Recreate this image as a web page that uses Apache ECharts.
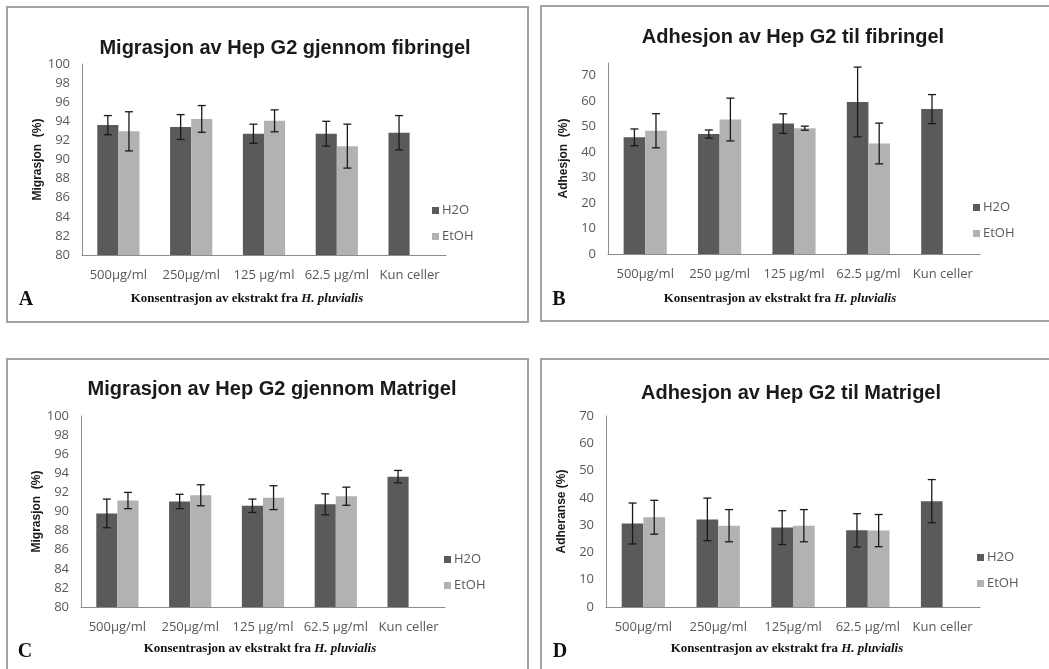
<!DOCTYPE html>
<html>
<head>
<meta charset="utf-8">
<script src="https://cdn.jsdelivr.net/npm/echarts@6/dist/echarts.min.js"></script>
<style>
html,body{margin:0;padding:0;background:#fff;}
#c{width:1049px;height:669px;}
</style>
</head>
<body>
<div id="c"></div>
<script>
// ---- Data ----
const seriesNames = ['H2O', 'EtOH'];

const catsA = ['500µg/ml', '250µg/ml', '125 µg/ml', '62.5 µg/ml', 'Kun celler'];
const catsB = ['500µg/ml', '250 µg/ml', '125 µg/ml', '62.5 µg/ml', 'Kun celler'];
const catsC = ['500µg/ml', '250µg/ml', '125 µg/ml', '62.5 µg/ml', 'Kun celler'];
const catsD = ['500µg/ml', '250µg/ml', '125µg/ml', '62.5 µg/ml', 'Kun celler'];

// A: Migrasjon gjennom fibringel
const migFibH2O = [93.6, 93.4, 92.7, 92.7, 92.8];
const migFibH2OSd = [1.0, 1.3, 1.0, 1.3, 1.8];
const migFibEtOH = [92.95, 94.25, 94.05, 91.4, null];
const migFibEtOHSd = [2.05, 1.4, 1.15, 2.3, null];

// B: Adhesjon til fibringel
const adhFibH2O = [45.8, 47.1, 51.2, 59.7, 56.9];
const adhFibH2OSd = [3.3, 1.6, 3.85, 13.7, 5.7];
const adhFibEtOH = [48.4, 52.8, 49.4, 43.4, null];
const adhFibEtOHSd = [6.7, 8.4, 0.8, 8.0, null];

// C: Migrasjon gjennom Matrigel
const migMatH2O = [89.8, 91.05, 90.6, 90.75, 93.65];
const migMatH2OSd = [1.5, 0.75, 0.7, 1.1, 0.65];
const migMatEtOH = [91.15, 91.7, 91.45, 91.6, null];
const migMatEtOHSd = [0.85, 1.1, 1.25, 0.95, null];

// D: Adhesjon til Matrigel
const adhMatH2O = [30.6, 32.1, 29.1, 28.1, 38.8];
const adhMatH2OSd = [7.5, 7.8, 6.2, 6.1, 7.9];
const adhMatEtOH = [32.9, 29.8, 29.8, 28.0, null];
const adhMatEtOHSd = [6.2, 5.9, 5.9, 5.9, null];

// Axis settings
const yMinA = 80, yMaxA = 100, yStepA = 2;
const yMinB = 0, yMaxB = 75, yStepB = 10;
const yMinC = 80, yMaxC = 100, yStepC = 2;
const yMinD = 0, yMaxD = 70, yStepD = 10;

const titles = [
  'Migrasjon av Hep G2 gjennom fibringel',
  'Adhesjon av Hep G2 til fibringel',
  'Migrasjon av Hep G2 gjennom Matrigel',
  'Adhesjon av Hep G2 til Matrigel'
];
const yNames = ['Migrasjon  (%)', 'Adhesjon  (%)', 'Migrasjon  (%)', 'Adheranse (%)'];
const panelLetters = ['A', 'B', 'C', 'D'];

// ---- Styles / layout ----
const DARK = '#5a5a5a';
const LIGHT = '#b2b2b2';
const LABEL = '#595959';
const BAR_W = 0.29;
const LABEL_FONT = 'Open Sans';

const panels = [
  {cats: catsA, h: migFibH2O, hs: migFibH2OSd, e: migFibEtOH, es: migFibEtOHSd, min: yMinA, max: yMaxA, step: yStepA,
   grid: {left: 82, top: 64, width: 364, height: 191}, title: [285, 48], xt: [247, 299], letter: [26, 300], legend: [432, 204]},
  {cats: catsB, h: adhFibH2O, hs: adhFibH2OSd, e: adhFibEtOH, es: adhFibEtOHSd, min: yMinB, max: yMaxB, step: yStepB,
   grid: {left: 608, top: 63, width: 372, height: 191}, title: [793, 37], xt: [780, 299], letter: [559, 300], legend: [973, 201]},
  {cats: catsC, h: migMatH2O, hs: migMatH2OSd, e: migMatEtOH, es: migMatEtOHSd, min: yMinC, max: yMaxC, step: yStepC,
   grid: {left: 81, top: 416, width: 364, height: 191}, title: [272, 389], xt: [260, 649], letter: [25, 652], legend: [444, 553]},
  {cats: catsD, h: adhMatH2O, hs: adhMatH2OSd, e: adhMatEtOH, es: adhMatEtOHSd, min: yMinD, max: yMaxD, step: yStepD,
   grid: {left: 606, top: 416, width: 374, height: 191}, title: [791, 393], xt: [787, 649], letter: [560, 652], legend: [977, 551]}
];

function errData(vals, sds) {
  const out = [];
  vals.forEach((v, i) => { if (v != null && sds[i] != null) out.push([i, v, sds[i]]); });
  return out;
}

function errRender(sign) {
  return function (params, api) {
    const i = api.value(0), v = api.value(1), sd = api.value(2);
    const band = api.size([1, 0])[0];
    const c = api.coord([i, v]);
    const x = c[0] + sign * band * BAR_W / 2;
    const yTop = api.coord([i, v + sd])[1];
    const yBot = api.coord([i, v - sd])[1];
    const cap = 4;
    const st = {stroke: '#1a1a1a', lineWidth: 1.3};
    return {
      type: 'group',
      children: [
        {type: 'line', shape: {x1: x, y1: yTop, x2: x, y2: yBot}, style: st},
        {type: 'line', shape: {x1: x - cap, y1: yTop, x2: x + cap, y2: yTop}, style: st},
        {type: 'line', shape: {x1: x - cap, y1: yBot, x2: x + cap, y2: yBot}, style: st}
      ]
    };
  };
}

const grid = [], xAxis = [], yAxis = [], series = [], legend = [], graphic = [];

// panel borders
[[7, 7, 521, 315], [541, 6, 520, 315], [7, 359, 521, 320], [541, 359, 520, 320]].forEach(r => {
  graphic.push({type: 'rect', shape: {x: r[0], y: r[1], width: r[2], height: r[3]},
    style: {fill: 'none', stroke: '#a3a3a3', lineWidth: 2}, silent: true, z: 0});
});

panels.forEach((p, k) => {
  grid.push(Object.assign({containLabel: false}, p.grid));
  xAxis.push({
    type: 'category', gridIndex: k, data: p.cats,
    axisLine: {lineStyle: {color: '#8c8c8c', width: 1}},
    axisTick: {show: false},
    axisLabel: {color: LABEL, fontSize: 13, fontFamily: LABEL_FONT, margin: 14, interval: 0}
  });
  yAxis.push({
    type: 'value', gridIndex: k, min: p.min, max: p.max, interval: p.step,
    splitLine: {show: false},
    axisLine: {show: true, lineStyle: {color: '#8c8c8c', width: 1}},
    axisTick: {show: false},
    axisLabel: {color: LABEL, fontSize: 13, fontFamily: LABEL_FONT, margin: 12,
      showMaxLabel: (p.max % p.step === 0)},
    name: yNames[k], nameLocation: 'middle', nameRotate: 90, nameGap: 38,
    nameTextStyle: {color: '#1a1a1a', fontWeight: 'bold', fontSize: 12, fontFamily: 'Liberation Sans'}
  });
  series.push({
    name: seriesNames[0], type: 'bar', xAxisIndex: k, yAxisIndex: k, data: p.h,
    barWidth: (BAR_W * 100) + '%', barGap: '0%', itemStyle: {color: DARK}
  });
  series.push({
    name: seriesNames[1], type: 'bar', xAxisIndex: k, yAxisIndex: k, data: p.e,
    barWidth: (BAR_W * 100) + '%', barGap: '0%', itemStyle: {color: LIGHT}
  });
  series.push({
    name: seriesNames[0] + ' sd', type: 'custom', xAxisIndex: k, yAxisIndex: k, z: 5,
    data: errData(p.h, p.hs), encode: {x: 0, y: 1}, renderItem: errRender(-1)
  });
  series.push({
    name: seriesNames[1] + ' sd', type: 'custom', xAxisIndex: k, yAxisIndex: k, z: 5,
    data: errData(p.e, p.es), encode: {x: 0, y: 1}, renderItem: errRender(1)
  });
  legend.push({
    data: seriesNames, orient: 'vertical', left: p.legend[0], top: p.legend[1],
    icon: 'rect', itemWidth: 7, itemHeight: 7, itemGap: 13, padding: 0,
    textStyle: {color: LABEL, fontSize: 13, fontFamily: LABEL_FONT, padding: [0, 0, 0, -2]}
  });
  graphic.push({type: 'text', silent: true, x: p.title[0], y: p.title[1],
    style: {text: titles[k], textAlign: 'center', textVerticalAlign: 'middle',
      font: 'bold 20px "Liberation Sans"', fill: '#1a1a1a'}});
  graphic.push({type: 'text', silent: true, x: p.xt[0], y: p.xt[1],
    style: {text: '{a|Konsentrasjon av ekstrakt fra }{b|H. pluvialis}', textAlign: 'center', textVerticalAlign: 'middle',
      rich: {
        a: {fontFamily: 'Liberation Serif', fontWeight: 'bold', fontSize: 13, fill: '#111'},
        b: {fontFamily: 'Liberation Serif', fontWeight: 'bold', fontStyle: 'italic', fontSize: 13, fill: '#111'}
      }}});
  graphic.push({type: 'text', silent: true, x: p.letter[0], y: p.letter[1],
    style: {text: panelLetters[k], textAlign: 'center', textVerticalAlign: 'middle',
      font: 'bold 20px "Liberation Serif"', fill: '#111'}});
});

const chart = echarts.init(document.getElementById('c'), null, {renderer: 'canvas'});
chart.setOption({
  animation: false,
  backgroundColor: '#fff',
  grid, xAxis, yAxis, series, legend, graphic
});
</script>
</body>
</html>
